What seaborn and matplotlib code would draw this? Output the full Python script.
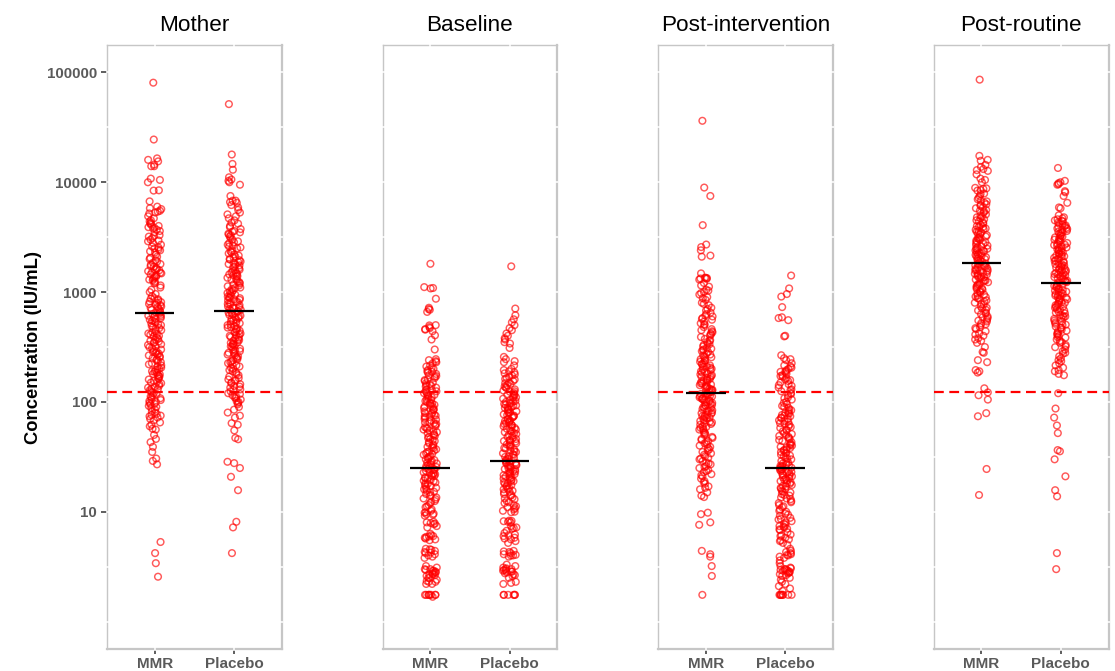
import matplotlib
matplotlib.use("Agg")
import matplotlib.pyplot as plt
import pandas as pd
import seaborn as sns

panels = ["Mother", "Baseline", "Post-intervention", "Post-routine"]
groups = ["MMR", "Placebo"]
yticks = [10, 100, 1000, 10000, 100000]
gridlines = [1, 3.16, 10, 31.6, 100, 316, 1000, 3160, 10000, 31600, 100000]
threshold = 122

# geometric means, per panel (MMR, Placebo)
means = [[640, 670], [25, 29], [120, 25], [1840, 1200]]

# concentrations
mother_mmr = [80700, 24500, 16500, 16000, 15500, 14500, 14000, 14000, 10800, 10500, 10000, 8450, 8400, 6700, 6000, 5800,
              5700, 5500, 5400, 5300, 5200, 4900, 4700, 4500, 4400, 4200, 4100, 4000, 3900, 3800, 3700, 3600, 3500, 3300,
              3200, 3100, 3000, 2900, 2800, 2700, 2600, 2500, 2450, 2400, 2300, 2200, 2100, 2050, 2000, 1900, 1850, 1800,
              1700, 1650, 1600, 1550, 1500, 1450, 1400, 1350, 1300, 1250, 1200, 1150, 1100, 1050, 1000, 960, 920, 880, 860,
              840, 820, 800, 780, 760, 740, 720, 700, 680, 660, 640, 620, 600, 590, 570, 550, 530, 520, 500, 490, 470, 450,
              440, 420, 410, 400, 385, 370, 360, 350, 335, 320, 310, 300, 290, 280, 275, 265, 255, 250, 240, 230, 225, 215,
              210, 200, 195, 190, 185, 180, 175, 170, 165, 160, 155, 150, 145, 140, 135, 130, 128, 125, 120, 118, 115, 110,
              108, 105, 102, 100, 98, 95, 92, 90, 85, 82, 80, 78, 75, 72, 70, 68, 65, 62, 60, 57, 56, 50, 46, 43, 39, 35,
              30.5, 29, 27, 5.3, 4.2, 3.4, 2.56,
              4250, 3850, 3250, 2950, 2550, 2350, 1950, 1780, 1720, 1620, 1580, 1520, 1480, 1420, 1380, 1320, 1280, 1220, 870,
              810, 770, 730, 690, 650, 630, 610, 580, 560, 540, 510, 480, 460, 430, 415, 395, 375, 355, 345, 330, 315, 295,
              285, 270, 260, 245, 235, 220, 205, 198, 188, 178, 172, 162, 152, 148, 138, 132, 122, 112, 104, 96, 88, 76, 74]
mother_placebo = [51500, 17900, 14700, 13000, 11100, 10600, 10300, 10000, 9500, 7500, 6800, 6800, 6600, 6500, 6200, 5900,
                  5600, 5300, 5100, 4900, 4700, 4500, 4300, 4200, 4000, 3900, 3750, 3600, 3500, 3400, 3300, 3200, 3100, 3000,
                  2900, 2800, 2700, 2650, 2550, 2500, 2400, 2300, 2250, 2200, 2100, 2050, 2000, 1950, 1900, 1850, 1800, 1750,
                  1700, 1650, 1600, 1550, 1500, 1470, 1430, 1400, 1350, 1320, 1280, 1250, 1200, 1170, 1130, 1100, 1070, 1040,
                  1000, 980, 950, 930, 900, 880, 860, 840, 820, 800, 780, 760, 740, 720, 700, 690, 670, 650, 640, 620, 610,
                  590, 580, 560, 550, 530, 520, 510, 490, 480, 470, 460, 445, 430, 420, 410, 400, 390, 380, 370, 360, 350, 340,
                  330, 325, 315, 305, 295, 285, 275, 270, 260, 250, 245, 235, 225, 220, 210, 200, 195, 190, 180, 175, 165, 160,
                  155, 150, 145, 140, 135, 130, 125, 120, 115, 112, 108, 105, 100, 98, 95, 90, 85, 80, 75, 72, 64, 62, 55, 47,
                  45.7, 28.5, 27.7, 25, 20.8, 15.7, 8.1, 7.2, 4.2,
                  3550, 3350, 2850, 2600, 2350, 2150, 1980, 1880, 1780, 1680, 1580, 1520, 1450, 1380, 1300, 1230, 1150, 1090,
                  1020, 970, 910, 890, 850, 810, 770, 730, 710, 680, 660, 630, 600, 570, 540, 500, 475, 450, 435, 405, 385,
                  365, 345, 335, 320, 300, 290, 280, 265, 255, 240, 230, 215, 205, 185, 170, 158, 148, 138, 128, 118, 110, 102]
baseline_mmr = [1810, 1110, 1090, 1080, 870, 720, 700, 690, 660, 500, 497, 480, 470, 460, 455, 440, 404, 370, 300, 245, 240,
                235, 230, 225, 215, 210, 200, 195, 190, 185, 180, 175, 170, 165, 160, 155, 150, 148, 145, 140, 138, 135, 130,
                128, 125, 122, 120, 118, 115, 112, 110, 108, 105, 102, 100, 98, 96, 94, 92, 90, 88, 86, 84, 82, 80, 78, 76,
                75, 73, 72, 70, 68, 66, 65, 63, 62, 60, 58, 57, 55, 54, 52, 50, 49, 48, 46, 45, 44, 43, 42, 40, 39, 38, 37,
                36, 35, 34, 33, 32, 31, 30, 29.5, 29, 28, 27, 26.5, 26, 25, 24.5, 24, 23, 22.5, 22, 21.5, 21, 20.5, 20, 19.5,
                19, 18.5, 18, 17.5, 17, 16.5, 16, 15.5, 15, 14.5, 14, 13.5, 13, 12.5, 12, 11.5, 11, 10.5, 9.8, 9.6, 9.4, 9.2,
                8, 7.9, 7.7, 7.4, 7.2, 6.1, 6, 5.9, 5.8, 5.7, 5.6, 5.5, 4.6, 4.5, 4.4, 4.3, 4.2, 4.1, 4, 3.9, 3.8, 3.2, 3.1,
                3, 3, 2.9, 2.9, 2.85, 2.8, 2.8, 2.7, 2.7, 2.6, 2.5, 2.5, 2.4, 2.3, 2.3, 2.2, 2.2, 1.75, 1.75, 1.75, 1.75, 1.75,
                1.75, 1.75, 1.75, 1.68,
                205, 188, 172, 158, 142, 126, 116, 106, 97, 91, 85, 79, 74, 69, 64, 59, 56, 53, 51, 47, 41, 38.5, 35.5, 33.5,
                31.5, 30.5, 28.5, 27.5, 26, 25.5, 24.5, 23.5, 22.8, 22, 21.2, 20.2, 19.2, 18.2, 17.2, 16.2, 15.2, 14.2, 13.2,
                12.2, 11.2, 10.2, 9.9, 9.5, 8.1, 7.8, 6.3, 5.95, 4.55, 4.25, 2.95, 2.75, 2.65, 2.35]
baseline_placebo = [1715, 708, 615, 565, 530, 500, 470, 450, 420, 400, 380, 370, 350, 340, 310, 257, 245, 235, 230, 215, 200,
                    195, 190, 182, 178, 170, 165, 160, 155, 150, 146, 142, 138, 134, 130, 127, 124, 121, 118, 115, 112, 110,
                    107, 105, 102, 100, 98, 96, 94, 92, 90, 88, 86, 84, 82, 80, 79, 77, 75, 74, 72, 70, 69, 67, 66, 64, 63, 61,
                    60, 58, 57, 55, 54, 52, 51, 50, 48, 47, 46, 45, 44, 43, 42, 41, 40, 39, 38, 37, 36, 35, 34, 33, 32, 31, 30,
                    29.5, 29, 28.5, 28, 27, 26.5, 26, 25.5, 25, 24.5, 24, 23.5, 23, 22.5, 22, 21.5, 21, 20.5, 20, 19.5, 19, 18.5,
                    18, 17.5, 17, 16.5, 16, 15.5, 15, 14.5, 14, 13.5, 13, 12.5, 12, 11.5, 11, 10.8, 10.5, 10, 8.3, 8.2, 8.1, 8,
                    7.4, 7.2, 7, 6.7, 6.4, 6.2, 6, 5.8, 5.6, 5.4, 5.2, 4.4, 4.3, 4.2, 4.1, 4, 4, 3.9, 3.3, 3.2, 3.1, 3, 3, 2.95,
                    2.9, 2.9, 2.85, 2.8, 2.75, 2.7, 2.6, 2.5, 2.3, 2.25, 2.2, 1.75, 1.75, 1.75, 1.75, 1.75, 1.75,
                    186, 174, 162, 148, 136, 125, 116, 109, 101, 97, 93, 89, 85, 81, 76, 73, 68, 65, 62, 59, 56, 53, 49, 44.5,
                    43.5, 40.5, 37.5, 35.5, 33.5, 31.5, 30.5, 28.2, 27.5, 26.2, 25.2, 24.2, 23.2, 22.2, 21.2, 20.2, 19.2, 18.2,
                    17.2, 16.2, 15.2, 14.2, 13.2, 12.2, 11.2, 10.2, 9.9, 8.25, 7.1, 6.1, 5.7, 4.35, 4.05, 3.05, 2.85, 2.65]
postint_mmr = [36300, 8950, 7500, 4070, 2710, 2570, 2400, 2150, 2100, 1480, 1350, 1350, 1340, 1330, 1320, 1300, 1150, 1120, 1050,
               1030, 1000, 950, 900, 850, 800, 760, 720, 680, 650, 630, 600, 580, 560, 540, 520, 500, 480, 460, 450, 430, 420,
               400, 390, 375, 360, 350, 340, 330, 320, 310, 300, 290, 285, 275, 270, 260, 250, 245, 240, 232, 225, 220, 215,
               210, 205, 200, 195, 190, 185, 180, 175, 172, 168, 165, 160, 157, 153, 150, 147, 144, 140, 138, 135, 132, 130,
               127, 125, 122, 120, 118, 116, 114, 112, 110, 108, 106, 104, 102, 100, 98, 96, 94, 92, 90, 88, 86, 84, 82, 80,
               78, 76, 75, 73, 72, 70, 68, 67, 65, 64, 62, 60, 58, 57, 55, 53, 52, 50, 48, 47, 45, 43, 42, 40, 38, 37, 36, 35,
               34, 32, 31, 30, 29, 28, 27, 26, 25, 24, 23, 22, 21, 20, 19, 18, 17, 16, 15, 14, 13.6, 9.8, 9.5, 8, 7.6, 4.4,
               4.1, 3.9, 3.2, 2.6, 1.75,
               1210, 980, 880, 780, 700, 610, 570, 510, 440, 410, 365, 335, 305, 295, 265, 255, 236, 222, 208, 198, 188, 178,
               170, 162, 155, 148, 142, 136, 129, 123, 119, 113, 107, 103, 99, 93, 87, 83, 79, 74, 71, 66, 63, 59, 56, 51,
               46, 44, 41, 39, 33, 30.5, 27.5, 25.5, 23.5, 21.5, 18.5, 16.5]
postint_placebo = [1415, 1080, 960, 910, 730, 590, 580, 555, 400, 395, 266, 250, 245, 240, 225, 215, 210, 200, 195, 190, 185,
                   180, 175, 170, 165, 160, 155, 150, 145, 140, 135, 130, 125, 120, 115, 110, 105, 100, 95, 90, 88, 85, 82, 80,
                   78, 76, 74, 72, 70, 68, 66, 64, 62, 60, 58, 56, 54, 52, 50, 49, 48, 46, 45, 44, 42, 41, 40, 39, 38, 37, 36,
                   35, 34, 33, 32, 31, 30, 29, 28, 27, 26.5, 26, 25.5, 25, 24.5, 24, 23.5, 23, 22.5, 22, 21.5, 21, 20.5, 20, 19.5,
                   19, 18.5, 18, 17.5, 17, 16.5, 16, 15.5, 15, 14.5, 14, 13.5, 13, 12.5, 12, 11.5, 11, 10.5, 10, 9.6, 9.2, 8.8,
                   8.5, 8.2, 8, 7.6, 7.4, 7.2, 7, 6.8, 6.5, 6.2, 6, 5.8, 5.6, 5.4, 5.2, 5, 4.6, 4.4, 4.2, 4.1, 4, 3.9, 3.8, 3.6,
                   3.4, 3.2, 3.1, 3, 3, 2.95, 2.9, 2.9, 2.85, 2.8, 2.8, 2.7, 2.6, 2.5, 2.4, 2.3, 2.2, 2.1, 2, 1.9, 1.75, 1.75,
                   1.75, 1.75, 1.75, 1.75, 1.75, 1.75,
                   205, 188, 172, 158, 142, 128, 118, 108, 98, 92, 84, 79, 75, 71, 67, 63, 59, 55, 51, 47, 43, 40.5, 38.5, 36.5,
                   34.5, 32.5, 30.5, 28.5, 27.5, 26.2, 25.2, 24.2, 23.2, 22.2, 21.2, 20.2, 19.2, 18.2, 17.2, 16.2, 15.2, 14.2,
                   13.2, 12.2, 11.2, 10.2, 9.4, 8.6, 7.8, 7.3, 6.9, 6.1, 5.5, 4.3, 4.05, 3.05, 2.95, 2.75, 2.65]
postroutine_mmr = [86000, 17400, 16000, 15700, 14400, 13800, 13200, 12900, 12700, 11800, 10800, 10500, 10000, 8900, 8800, 8700,
                   8500, 8400, 7900, 7800, 7500, 7200, 7000, 6800, 6500, 6300, 6100, 5900, 5800, 5600, 5400, 5300, 5100, 5000,
                   4800, 4700, 4500, 4400, 4300, 4100, 4000, 3900, 3800, 3700, 3600, 3500, 3400, 3300, 3200, 3100, 3000, 2950,
                   2900, 2800, 2750, 2700, 2600, 2550, 2500, 2450, 2400, 2350, 2300, 2250, 2200, 2150, 2100, 2050, 2000, 1950,
                   1900, 1850, 1800, 1750, 1700, 1650, 1600, 1570, 1530, 1500, 1470, 1430, 1400, 1370, 1330, 1300, 1270, 1230,
                   1200, 1170, 1130, 1100, 1070, 1030, 1000, 970, 930, 900, 870, 840, 800, 770, 740, 710, 680, 650, 630, 600,
                   580, 560, 540, 520, 500, 480, 460, 440, 420, 400, 380, 360, 345, 316, 285, 280, 240, 230, 195, 190, 185, 133,
                   122, 115, 105, 79, 74, 24.5, 14.2,
                   6700, 6200, 5500, 4900, 4600, 4200, 3950, 3750, 3550, 3350, 3150, 3050, 2850, 2650, 2480, 2380, 2280, 2180,
                   2080, 1980, 1920, 1820, 1770, 1720, 1680, 1620, 1580, 1550, 1480, 1450, 1380, 1350, 1280, 1250, 1180, 1150,
                   1080, 1050, 1010, 950, 910, 880, 820, 780, 720, 690, 640, 590, 550, 510, 470, 410, 370]
postroutine_placebo = [13500, 10300, 10000, 9800, 9600, 9500, 8300, 8100, 7500, 6500, 5900, 5800, 5000, 4800, 4700, 4600, 4500,
                       4400, 4300, 4200, 4100, 4000, 3900, 3850, 3800, 3700, 3600, 3500, 3450, 3400, 3300, 3200, 3150, 3100,
                       3000, 2950, 2900, 2800, 2750, 2700, 2650, 2600, 2550, 2500, 2450, 2400, 2350, 2300, 2250, 2200, 2150,
                       2100, 2050, 2000, 1950, 1900, 1850, 1800, 1780, 1740, 1700, 1670, 1630, 1600, 1570, 1530, 1500, 1480,
                       1450, 1420, 1400, 1370, 1340, 1310, 1280, 1250, 1220, 1200, 1170, 1140, 1110, 1080, 1050, 1030, 1000,
                       980, 960, 940, 920, 900, 880, 860, 840, 820, 800, 780, 760, 740, 720, 700, 680, 660, 640, 620, 600, 590,
                       570, 550, 530, 515, 500, 485, 470, 455, 440, 425, 410, 400, 385, 370, 360, 345, 330, 315, 300, 290, 275,
                       260, 250, 235, 225, 215, 205, 195, 190, 180, 175, 120, 87, 72, 61, 52, 36.4, 35.5, 30, 21, 15.7, 13.8,
                       4.2, 3.0,
                       4450, 4050, 3750, 3550, 3250, 3050, 2880, 2680, 2520, 2380, 2230, 2120, 2020, 1920, 1820, 1720, 1650, 1580,
                       1520, 1460, 1390, 1330, 1270, 1230, 1160, 1120, 1060, 1010, 970, 930, 890, 850, 810, 770, 730, 690, 650,
                       610, 580, 540, 505, 475, 445, 415, 390, 350, 320, 280, 240]

panel_data = [(mother_mmr, mother_placebo), (baseline_mmr, baseline_placebo),
              (postint_mmr, postint_placebo), (postroutine_mmr, postroutine_placebo)]

sns.set_theme(style="white")
plt.rcParams["font.family"] = ["Liberation Sans", "DejaVu Sans"]

fig, axes = plt.subplots(1, 4, figsize=(11.15, 6.71), dpi=100)
fig.subplots_adjust(left=107 / 1115, right=1108.5 / 1115, top=1 - 45 / 671, bottom=1 - 649 / 671, wspace=0.578)

for i, ax in enumerate(axes):
    mmr, placebo = panel_data[i]
    df = pd.DataFrame({"group": ["MMR"] * len(mmr) + ["Placebo"] * len(placebo), "conc": mmr + placebo})

    sns.stripplot(data=df, x="group", y="conc", order=groups, ax=ax, log_scale=True, jitter=0.085, size=4.8,
                  color="red", edgecolor="red", linewidth=1.05, alpha=0.65, zorder=4)
    for coll in ax.collections:
        coll.set_facecolor("none")

    ax.set_xlim(-0.6, 1.6)
    ax.set_ylim(10 ** -0.25, 10 ** 5.25)

    # white grid runs across the grey border in the original
    ax.hlines(gridlines, -0.006, 1.006, color="white", lw=1.1, zorder=3, clip_on=False, transform=ax.get_yaxis_transform())
    ax.vlines([0, 1], -0.003, 1.003, color="white", lw=1.1, zorder=3, clip_on=False, transform=ax.get_xaxis_transform())

    ax.axhline(threshold, color="red", lw=1.6, ls=(0, (4.4, 2.5)), zorder=5)
    ax.hlines(means[i], [-0.25, 0.75], [0.25, 1.25], color="black", lw=1.6, zorder=6)

    for side in ax.spines:
        ax.spines[side].set_color("#c6c6c6")
        ax.spines[side].set_zorder(2)
    ax.spines["left"].set_linewidth(1.0)
    ax.spines["top"].set_linewidth(1.0)
    ax.spines["right"].set_linewidth(1.6)
    ax.spines["bottom"].set_linewidth(1.6)

    ax.set_title(panels[i], fontsize=16.2, color="black", pad=10)
    ax.set_xlabel("")
    ax.set_ylabel("")
    ax.set_xticks([0, 1], groups)
    ax.tick_params(axis="x", bottom=True, length=3.5, width=1.1, color="#333333", pad=2.5, labelcolor="#5a5a5a", labelsize=11)
    for lab in ax.get_xticklabels():
        lab.set_fontweight("bold")

    if i == 0:
        ax.set_yticks(yticks, [str(t) for t in yticks])
        ax.tick_params(axis="y", left=True, length=4.3, width=1.1, color="#333333", pad=3, labelcolor="#5a5a5a", labelsize=10.8)
        for lab in ax.get_yticklabels():
            lab.set_fontweight("bold")
        ax.set_ylabel("Concentration (IU/mL)", fontsize=13.2, fontweight="bold", color="black", labelpad=3)
    else:
        ax.set_yticks([])
    ax.minorticks_off()

fig.savefig("out.png", dpi=100)
